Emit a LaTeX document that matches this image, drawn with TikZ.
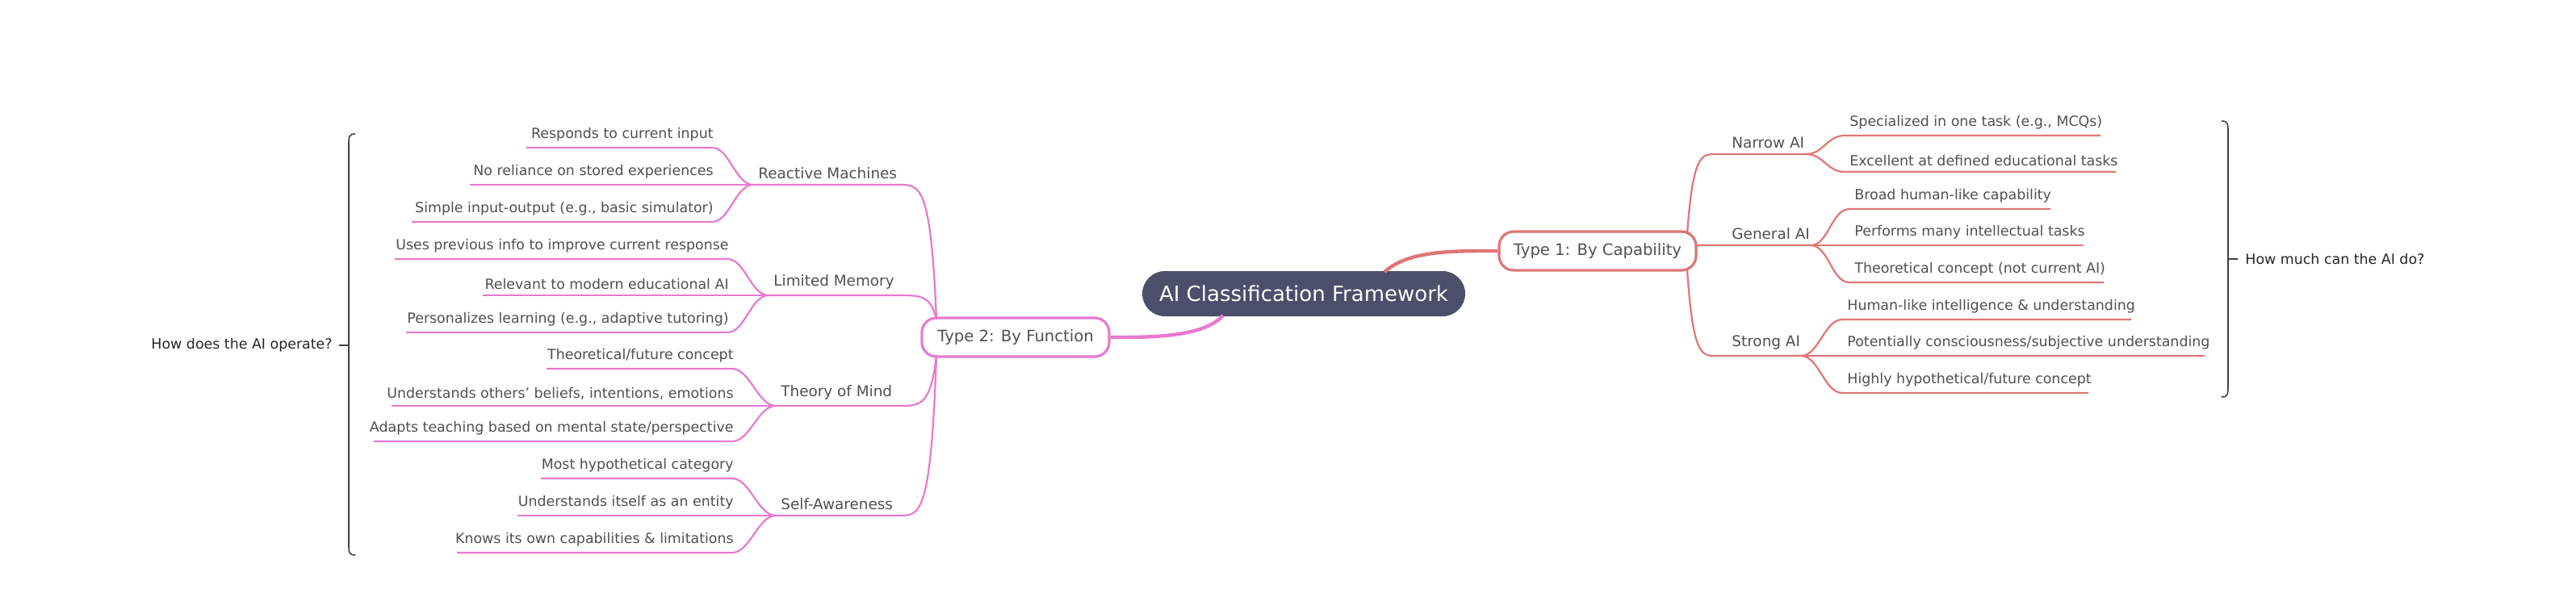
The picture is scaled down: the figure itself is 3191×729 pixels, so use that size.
\documentclass[tikz,border=0pt]{standalone}
\usepackage{fontspec}
\setmainfont{DejaVu Sans}
\definecolor{pk}{HTML}{E879D0}
\definecolor{rd}{HTML}{E07575}
\definecolor{cen}{HTML}{4B4F6A}
\definecolor{tx}{HTML}{505050}
\begin{document}
\begin{tikzpicture}[x=0.5pt,y=-0.5pt,
  lbl/.style={font=\fontsize{8.7}{10}\selectfont,text=tx,inner sep=0pt},
  mid/.style={font=\fontsize{9.2}{11}\selectfont,text=tx,inner sep=0pt},
  typ/.style={draw,line width=1.6pt,rounded corners=9pt,fill=white,minimum width=116pt,minimum height=24pt,font=\fontsize{9.8}{12}\selectfont,text=tx},
  pl/.style={draw=pk,line width=1.1pt},
  rl/.style={draw=rd,line width=1.1pt},
  br/.style={draw=black!75,line width=0.8pt}]
\useasboundingbox (0,0) rectangle (3191,729);
\node[fill=cen,rounded corners=14pt,minimum width=200pt,minimum height=28pt,text=white,font=\fontsize{13}{15}\selectfont] (c) at (1615,364) {AI Classification Framework};
\node[typ,draw=rd,minimum width=122pt] (t1) at (1979,311) {Type 1: By Capability};
\node[typ,draw=pk] (t2) at (1258,418) {Type 2: By Function};
\coordinate (c1) at (1715,337); \coordinate (c2) at (1515,391);
\draw[rd,line width=2.2pt] (c1) .. controls (1745,310) and (1800,311) .. (t1.west);
\draw[pk,line width=2.2pt] (c2) .. controls (1490,419) and (1420,418) .. (t2.east);
% left side
\coordinate (tu) at (1160,396); \coordinate (td) at (1160,440);
\foreach \n/\xj/\y/\xe/\lab/\st/\ch in {
 rm/933/229/882/Reactive Machines/tu/{183/652/{Responds to current input},229/582/{No reliance on stored experiences},275/510/{Simple input-output (e.g., basic simulator)}},
 lm/952/366/901/Limited Memory/tu/{321/489/{Uses previous info to improve current response},366/598/{Relevant to modern educational AI},412/503/{Personalizes learning (e.g., adaptive tutoring)}},
 tm/961/503/907/Theory of Mind/td/{457/677/{Theoretical/future concept},503/485/{Understands others' beliefs, intentions, emotions},547/463/{Adapts teaching based on mental state/perspective}},
 sa/961/639/907/Self-Awareness/td/{593/670/{Most hypothetical category},639/641/{Understands itself as an entity},685/566/{Knows its own capabilities \& limitations}}}{
  \coordinate (\n j) at (\xj,\y); \coordinate (\n e) at (1114,\y);
  \draw[pl] (\st) .. controls (1153,\y) and (1140,\y) .. (\n e) -- (\n j);
  \node[mid,anchor=south west] (\n l) at (\xj+6,\y-7) {\lab};
  \foreach \cy/\cx/\ct [count=\k] in \ch {
    \coordinate (\n a\k) at (\xe,\cy); \coordinate (\n b\k) at (\cx,\cy);
    \draw[pl] (\n j) .. controls (\xj-22,\y) and (\xe+22,\cy) .. (\n a\k) -- (\n b\k);
    \node[lbl,anchor=south east] (\n t\k) at (\xe+2,\cy-7) {\ct};
  }
}
% right side
\foreach \n/\xs/\xj/\y/\cs/\sx/\sy/\lab/\ch in {
 na/2125/2237/191/2285/2090/290/Narrow AI/{168/2602/{Specialized in one task (e.g., MCQs)},213/2621/{Excellent at defined educational tasks}},
 ga/2100/2243/304/2291/2102/308/General AI/{259/2540/{Broad human-like capability},304/2581/{Performs many intellectual tasks},350/2606/{Theoretical concept (not current AI)}},
 sg/2125/2231/441/2282/2090/334/Strong AI/{396/2640/{Human-like intelligence \& understanding},441/2731/{Potentially consciousness/subjective understanding},487/2587/{Highly hypothetical/future concept}}}{
  \coordinate (\n s) at (\sx,\sy); \coordinate (\n b) at (\xs,\y); \coordinate (\n j) at (\xj,\y);
  \draw[rl] (\n s) .. controls (2097,\y) and (2108,\y) .. (\n b) -- (\n j);
  \node[mid,anchor=south west] (\n l) at (2145,\y-7) {\lab};
  \foreach \cy/\ce/\ct [count=\k] in \ch {
    \coordinate (\n a\k) at (\cs,\cy); \coordinate (\n e\k) at (\ce,\cy);
    \draw[rl] (\n j) .. controls (\xj+22,\y) and (\cs-22,\cy) .. (\n a\k) -- (\n e\k);
    \node[lbl,anchor=south west] (\n t\k) at (\cs+6,\cy-7) {\ct};
  }
}
% brackets
\coordinate (lb1) at (440,166); \coordinate (lb2) at (440,688);
\draw[br] (lb1) .. controls (432,166) and (432,170) .. (432,180) -- (432,674) .. controls (432,684) and (432,688) .. (lb2);
\coordinate (lbm) at (432,428); \coordinate (lbt) at (420,428);
\draw[br] (lbm) -- (lbt);
\node[lbl,anchor=east,text=black!85] (lq) at (412,428) {How does the AI operate?};
\coordinate (rb1) at (2752,150); \coordinate (rb2) at (2752,492);
\draw[br] (rb1) .. controls (2760,150) and (2760,154) .. (2760,164) -- (2760,478) .. controls (2760,488) and (2760,492) .. (rb2);
\coordinate (rbm) at (2760,321); \coordinate (rbt) at (2772,321);
\draw[br] (rbm) -- (rbt);
\node[lbl,anchor=west,text=black!85] (rq) at (2781,321) {How much can the AI do?};
\end{tikzpicture}
\end{document}
